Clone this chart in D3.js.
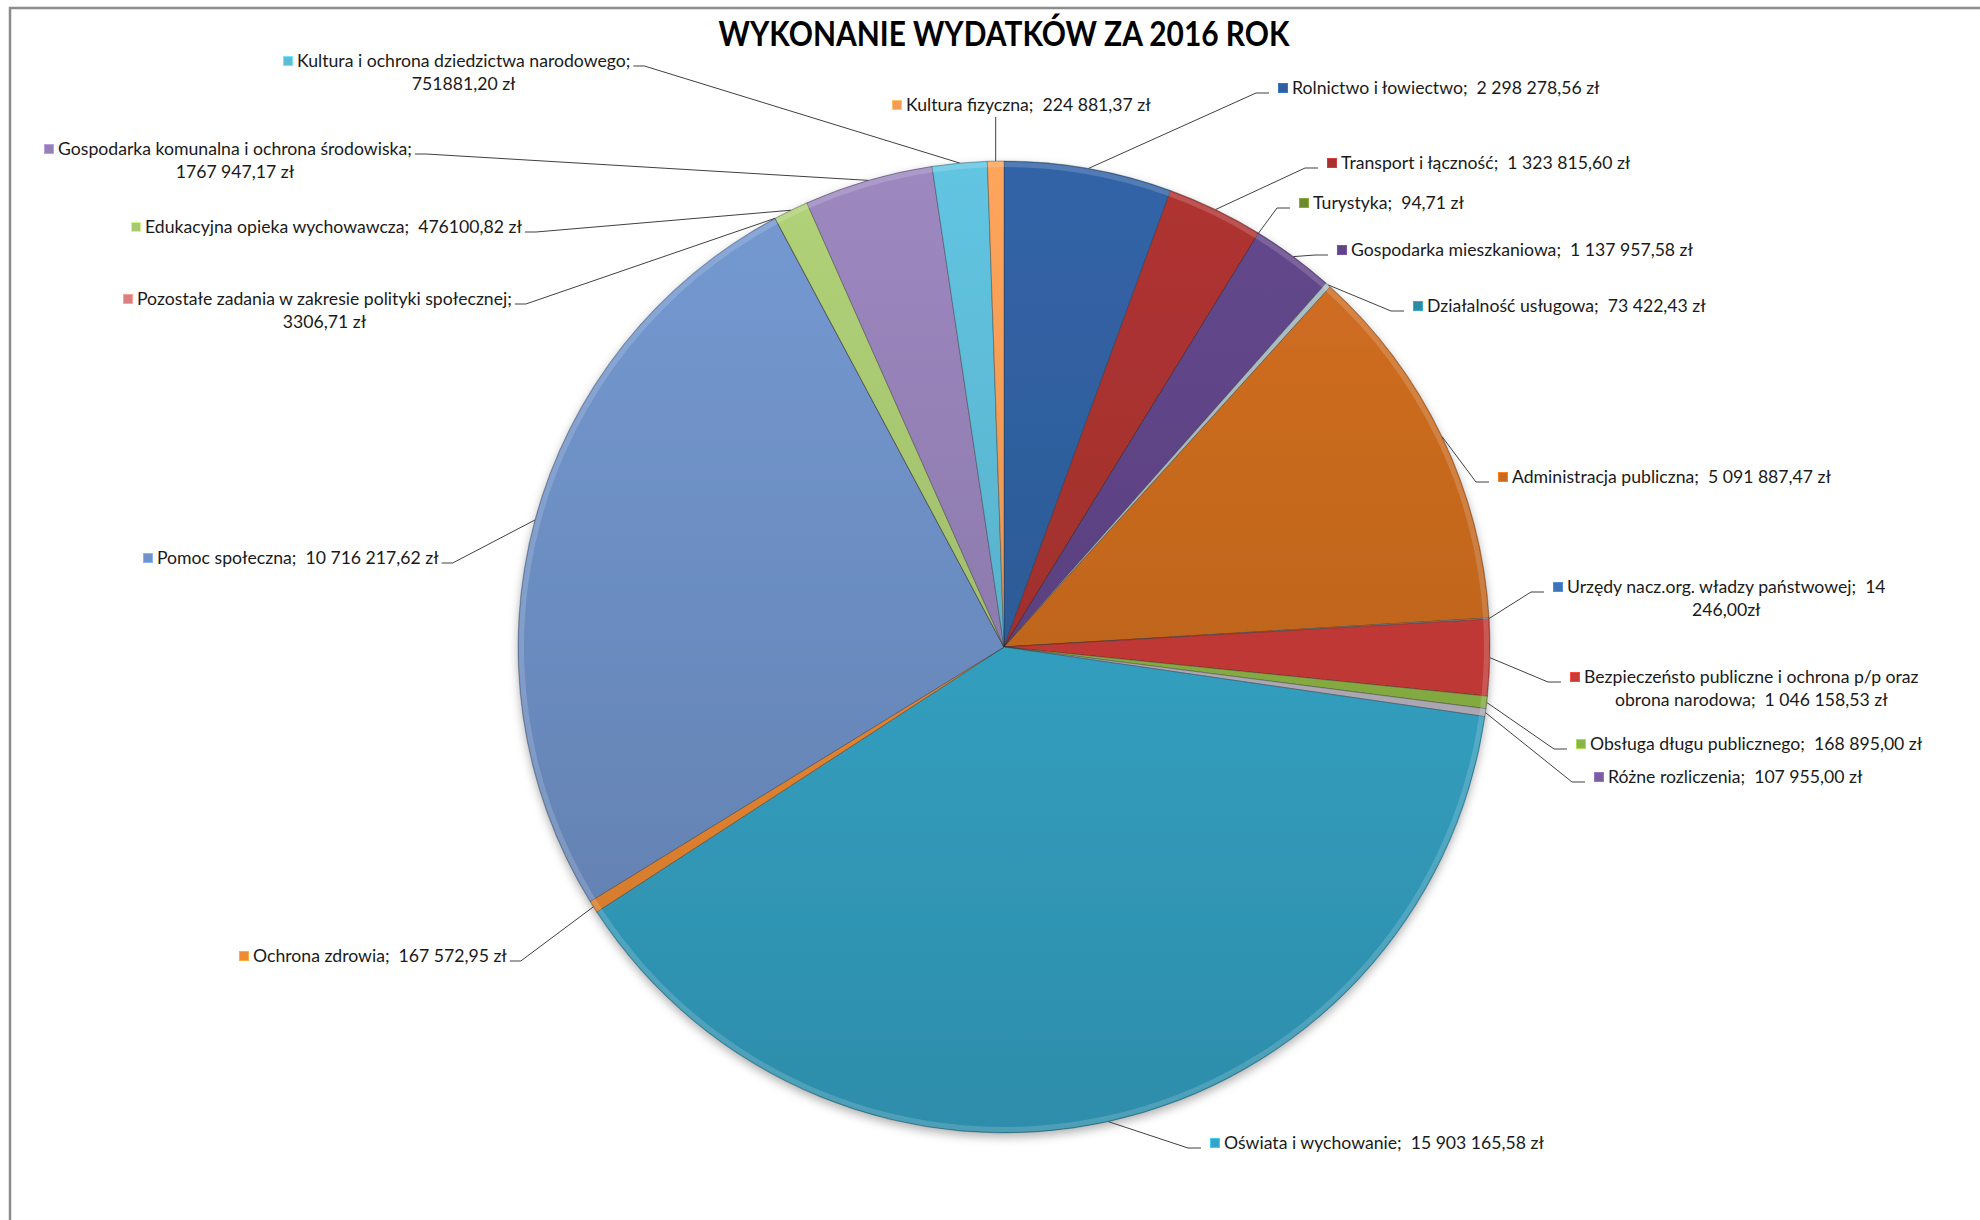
<!DOCTYPE html>
<html>
<head>
<meta charset="utf-8">
<script src="https://cdn.jsdelivr.net/npm/d3@7"></script>
<style>
  body { margin: 0; background: #fff; }
  text { white-space: pre; }
</style>
</head>
<body>
<div id="chart"></div>
<script>
// slices, clockwise from 12 o'clock
var categories = [
  "Rolnictwo i łowiectwo",
  "Transport i łączność",
  "Turystyka",
  "Gospodarka mieszkaniowa",
  "Działalność usługowa",
  "Administracja publiczna",
  "Urzędy nacz.org. władzy państwowej",
  "Bezpieczeństo publiczne i ochrona p/p oraz obrona narodowa",
  "Obsługa długu publicznego",
  "Różne rozliczenia",
  "Oświata i wychowanie",
  "Ochrona zdrowia",
  "Pomoc społeczna",
  "Pozostałe zadania w zakresie polityki społecznej",
  "Edukacyjna opieka wychowawcza",
  "Gospodarka komunalna i ochrona środowiska",
  "Kultura i ochrona dziedzictwa narodowego",
  "Kultura fizyczna"
];

var values = [
  2298278.56, 1323815.60, 94.71, 1137957.58, 73422.43, 5091887.47,
  14246.00, 1046158.53, 168895.00, 107955.00, 15903165.58, 167572.95,
  10716217.62, 3306.71, 476100.82, 1767947.17, 751881.20, 224881.37
];

// value text exactly as printed on the chart
var valueLabels = [
  "2 298 278,56 zł", "1 323 815,60 zł", "94,71 zł", "1 137 957,58 zł", "73 422,43 zł",
  "5 091 887,47 zł", "14 246,00zł", "1 046 158,53 zł", "168 895,00 zł", "107 955,00 zł",
  "15 903 165,58 zł", "167 572,95 zł", "10 716 217,62 zł", "3306,71 zł", "476100,82 zł",
  "1767 947,17 zł", "751881,20 zł", "224 881,37 zł"
];

// where a label wraps onto a second line
var labelBreaks = [
  null, null, null, null, null, null, "14", "p/p oraz", null, null,
  null, null, null, ";", null, ";", ";", null
];

var colors = [
  "#2f5f9e", "#a8312f", "#6e8a2e", "#5f4487", "#2d8ba6", "#c96a1f",
  "#3f73b8", "#c93b37", "#8ab445", "#7a5ea0", "#35a6c8", "#f08a33",
  "#6f92c8", "#d9817e", "#a9c872", "#9581b6", "#5dbbd6", "#f49c56"
];

// label placement: marker centre x, first line centre y
var labelAnchors = [
  [1283, 88], [1332, 163], [1304, 203], [1342, 250], [1418, 306], [1503, 477],
  [1558, 587], [1575, 677], [1581, 744], [1599, 777], [1215, 1143], [244, 956],
  [148, 558], [128, 299], [136, 227], [49, 149], [288, 61], [897, 105]
];

var width = 1980, height = 1220;
var cx = 1004, cy = 647, radius = 486;
var textScale = 0.98, lineH = 23;

var svg = d3.select("#chart").append("svg")
  .attr("width", width)
  .attr("height", height);

// chart frame (only the top and left edges fall inside the picture)
svg.append("rect")
  .attr("x", 10).attr("y", 8)
  .attr("width", width).attr("height", height)
  .attr("fill", "#fff")
  .attr("stroke", "#8c8c8c")
  .attr("stroke-width", 2.5);

var defs = svg.append("defs");

var shadow = defs.append("filter").attr("id", "shadow")
  .attr("x", "-10%").attr("y", "-10%").attr("width", "120%").attr("height", "120%");
shadow.append("feDropShadow")
  .attr("dx", 0).attr("dy", 4)
  .attr("stdDeviation", 5)
  .attr("flood-color", "#000")
  .attr("flood-opacity", 0.3);

var data = categories.map(function (c, i) {
  return { name: c, value: values[i], label: valueLabels[i], color: colors[i], i: i };
});

var pie = d3.pie().sort(null).value(function (d) { return d.value; });
var arcs = pie(data);
var total = d3.sum(values);

var arc = d3.arc().innerRadius(0).outerRadius(radius);
var rimBand = d3.arc().innerRadius(radius - 6).outerRadius(radius - 1);
var rim = d3.arc().innerRadius(radius).outerRadius(radius);

// tiny slices show up as a silver bevel sliver
function sliceColor(d) {
  var c = d.data.color;
  if (d.data.value / total < 0.003) c = d3.interpolateRgb(c, "#c4c4c4")(0.8);
  return c;
}

arcs.forEach(function (d, i) {
  var c = sliceColor(d);
  var grad = defs.append("linearGradient")
    .attr("id", "grad" + i)
    .attr("gradientUnits", "userSpaceOnUse")
    .attr("x1", 0).attr("y1", -radius)
    .attr("x2", 0).attr("y2", radius);
  grad.append("stop").attr("offset", "0%").attr("stop-color", d3.color(c).brighter(0.15));
  grad.append("stop").attr("offset", "100%").attr("stop-color", d3.color(c).darker(0.45));
});

var pieG = svg.append("g")
  .attr("transform", "translate(" + cx + "," + cy + ")")
  .attr("filter", "url(#shadow)");

pieG.selectAll("path.slice")
  .data(arcs)
  .enter()
  .append("path")
    .attr("class", "slice")
    .attr("d", arc)
    .attr("fill", function (d, i) { return "url(#grad" + i + ")"; })
    .attr("stroke", "rgba(40,40,40,0.35)")
    .attr("stroke-width", 1)
    .attr("stroke-linejoin", "round");

// bevel highlight along the outer edge
pieG.selectAll("path.rim")
  .data(arcs)
  .enter()
  .append("path")
    .attr("class", "rim")
    .attr("d", rimBand)
    .attr("fill", "#fff")
    .attr("fill-opacity", 0.16);

// title
svg.append("text")
  .attr("transform", "translate(" + cx + ",46) scale(0.88,1)")
  .attr("text-anchor", "middle")
  .attr("font-family", "Lato, 'Open Sans', sans-serif")
  .attr("font-weight", "bold")
  .attr("font-size", 34)
  .attr("fill", "#000")
  .text("WYKONANIE WYDATKÓW ZA 2016 ROK");

var leaders = svg.append("g")
  .attr("fill", "none")
  .attr("stroke", "#404040")
  .attr("stroke-width", 1);

var labels = svg.append("g")
  .attr("font-family", "Lato, 'Open Sans', sans-serif")
  .attr("font-size", 18)
  .attr("fill", "#1a1a1a");

arcs.forEach(function (d, i) {
  var full = d.data.name + ";  " + d.data.label;
  var lines = [full];
  if (labelBreaks[i]) {
    var k = full.indexOf(labelBreaks[i]) + labelBreaks[i].length;
    lines = [full.slice(0, k), full.slice(k).trim()];
  }

  var mx = labelAnchors[i][0], my = labelAnchors[i][1];
  var lg = labels.append("g").attr("transform", "translate(" + mx + "," + my + ")");

  var mc = d3.color(d.data.color);
  lg.append("rect")
    .attr("x", -4.5).attr("y", -4.5)
    .attr("width", 9).attr("height", 9)
    .attr("fill", mc)
    .attr("stroke", mc.brighter(0.6))
    .attr("stroke-width", 1);

  var tg = lg.append("g").attr("transform", "translate(9,0) scale(" + textScale + ",1)");
  var t1 = tg.append("text").attr("x", 0).attr("dy", "0.35em").text(lines[0]);
  var w1 = t1.node().getComputedTextLength();
  if (lines[1]) {
    tg.append("text")
      .attr("x", w1 / 2)
      .attr("y", lineH)
      .attr("dy", "0.35em")
      .attr("text-anchor", "middle")
      .text(lines[1]);
  }

  var textRight = mx + 9 + w1 * textScale;
  var p = rim.centroid(d);
  var px = cx + p[0], py = cy + p[1];
  var sy = my + 5;
  var pts;
  if (px > mx - 5 && px < textRight && py > my) {
    pts = [[px, my + 12], [px, py]];
  } else if (px < mx) {
    pts = [[px, py], [mx - 27, sy], [mx - 14, sy]];
  } else {
    pts = [[textRight + 3, sy], [textRight + 14, sy], [px, py]];
  }
  leaders.append("path").attr("d", d3.line()(pts));
});
</script>
</body>
</html>
